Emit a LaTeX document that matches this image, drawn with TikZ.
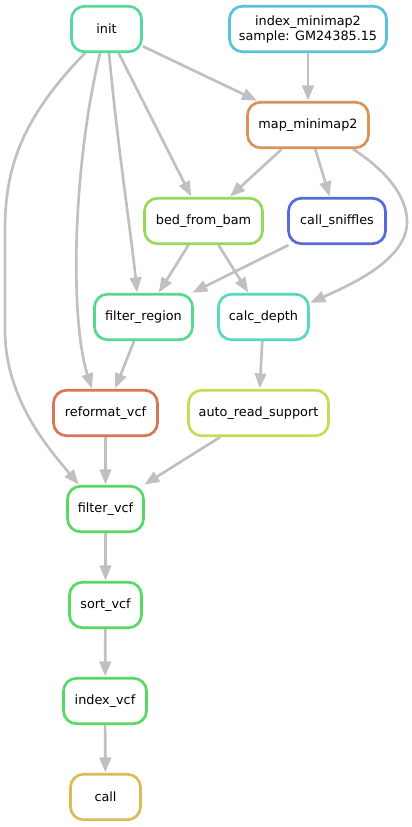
\documentclass[tikz,border=0pt]{standalone}
\usepackage{fontspec}
\setmainfont{DejaVu Sans}
\usetikzlibrary{arrows.meta,calc}
\pgfdeclarelayer{background}
\pgfsetlayers{background,main}
\definecolor{cinit}{RGB}{87,217,155}
\definecolor{cidx}{RGB}{87,194,217}
\definecolor{cmap}{RGB}{217,147,87}
\definecolor{cbed}{RGB}{152,217,87}
\definecolor{csniff}{RGB}{87,106,217}
\definecolor{cfreg}{RGB}{87,217,139}
\definecolor{cdep}{RGB}{87,217,191}
\definecolor{cref}{RGB}{217,117,87}
\definecolor{cauto}{RGB}{204,217,87}
\definecolor{cvcf}{RGB}{87,217,102}
\definecolor{ccall}{RGB}{217,187,87}
\definecolor{edgegray}{RGB}{192,192,192}
\begin{document}
\begin{tikzpicture}[x=1pt,y=-1pt,
  rule/.style={draw=#1, line width=2.67pt, rounded corners=13pt, fill=white,
    minimum height=45.5pt, inner sep=0pt, align=center,
    font=\fontsize{12.8}{15}\selectfont},
  edge/.style={draw=edgegray, line width=2.67pt,
    -{Triangle[length=15pt,width=11.5pt]}, shorten >=0.5pt}]
\useasboundingbox (0,0) rectangle (412,827);
\node[rule=cinit, minimum width=70pt] (init) at (106.5,29) {init};
\node[rule=cidx, minimum width=157pt] (idx) at (308,29) {index\_minimap2\\sample: GM24385.15};
\node[rule=cmap, minimum width=121pt] (map) at (308,125) {map\_minimap2};
\node[rule=cbed, minimum width=118pt] (bed) at (203.5,221) {bed\_from\_bam};
\node[rule=csniff, minimum width=97pt] (sniff) at (337,221) {call\_sniffles};
\node[rule=cfreg, minimum width=98pt] (freg) at (143.5,317) {filter\_region};
\node[rule=cdep, minimum width=90pt] (cdepth) at (263.5,317) {calc\_depth};
\node[rule=cref, minimum width=104pt] (refvcf) at (105.5,413) {reformat\_vcf};
\node[rule=cauto, minimum width=140pt] (auto) at (258.5,413) {auto\_read\_support};
\node[rule=cvcf, minimum width=76pt] (fvcf) at (105.5,509) {filter\_vcf};
\node[rule=cvcf, minimum width=72pt] (sort) at (105.5,605) {sort\_vcf};
\node[rule=cvcf, minimum width=83pt] (ivcf) at (105,701) {index\_vcf};
\node[rule=ccall, minimum width=70pt] (call) at (105.5,797) {call};
\begin{pgfonlayer}{background}
\draw[edge] (init) -- (map);
\draw[edge] (idx) -- (map);
\draw[edge] (init) -- (bed);
\draw[edge] ($(init.south)+(2.5,0)$) .. controls (118,150) and (132,240) .. ($(freg.north)+(-6.5,0)$);
\draw[edge] ($(init.south)+(-6.5,0)$) .. controls (72,170) and (70,320) .. ($(refvcf.north)+(-13.5,0)$);
\draw[edge] ($(init.south)+(-21.5,0)$) .. controls (20,120) and (5,170) .. (5,230) -- (5,330) .. controls (5,400) and (50,450) .. ($(fvcf.north)+(-26.5,0)$);
\draw[edge] (map) -- (bed);
\draw[edge] (map) -- (sniff);
\draw[edge] ($(map.south)+(45,0)$) .. controls (385,170) and (407,195) .. (407,222) .. controls (407,260) and (350,285) .. ($(cdepth.east)+(0,-14)$);
\draw[edge] (bed) -- (freg);
\draw[edge] (bed) -- (cdepth);
\draw[edge] (sniff) -- (freg);
\draw[edge] (freg) -- (refvcf);
\draw[edge] (cdepth) -- (auto);
\draw[edge] (refvcf) -- (fvcf);
\draw[edge] (auto) -- (fvcf);
\draw[edge] (fvcf) -- (sort);
\draw[edge] (sort) -- (ivcf);
\draw[edge] (ivcf) -- (call);
\end{pgfonlayer}
\end{tikzpicture}
\end{document}
